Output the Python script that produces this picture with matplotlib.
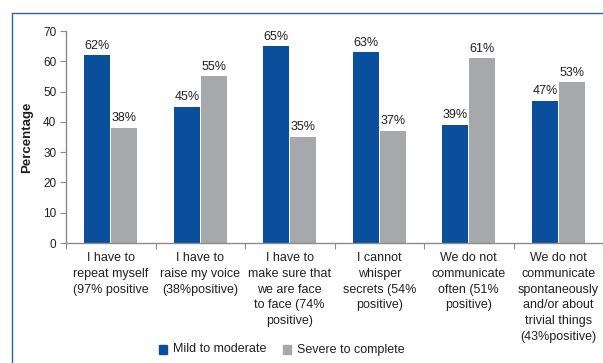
import numpy as np
import matplotlib
matplotlib.use("Agg")
import matplotlib.pyplot as plt
from matplotlib.lines import Line2D
from matplotlib.patches import Rectangle

plt.rcParams['font.family'] = ['Liberation Sans', 'DejaVu Sans']

categories = [
    "I have to\nrepeat myself\n(97% positive",
    "I have to\nraise my voice\n(38%positive)",
    "I have to\nmake sure that\nwe are face\nto face (74%\npositive)",
    "I cannot\nwhisper\nsecrets (54%\npositive)",
    "We do not\ncommunicate\noften (51%\npositive)",
    "We do not\ncommunicate\nspontaneously\nand/or about\ntrivial things\n(43%positive)",
]
mild = [62, 45, 65, 63, 39, 47]
severe = [38, 55, 35, 37, 61, 53]
series_names = ["Mild to moderate", "Severe to complete"]

blue = "#0a4f9c"
grey = "#a7a8ab"
txt = "#231f20"

fig = plt.figure(figsize=(6.03, 3.63), dpi=100)
ax = fig.add_axes([66/603, 1 - 243/363, 1 - 66/603, (243 - 31)/363])

x = np.arange(len(categories))
w = 0.29
b1 = ax.bar(x - w/2 - 0.005, mild, w, color=blue, label=series_names[0])
b2 = ax.bar(x + w/2 + 0.005, severe, w, color=grey, label=series_names[1])

for bars, vals in ((b1, mild), (b2, severe)):
    for r, v in zip(bars, vals):
        ax.text(r.get_x() + r.get_width()/2, v + 1.2, f"{v}%", ha="center",
                va="bottom", fontsize=9, color=txt)

ax.set_xlim(-0.5, len(categories) - 0.5)
ax.set_ylim(0, 70)
ax.set_yticks(range(0, 71, 10))
ax.set_xticks(np.arange(len(categories) + 1) - 0.5)
ax.set_xticklabels([])
ax.tick_params(axis="x", length=4, color="#8c8c8c", direction="out")
ax.tick_params(axis="y", length=4, color="#8c8c8c", labelsize=8.5, labelcolor=txt, pad=3)
for s in ("top", "right"):
    ax.spines[s].set_visible(False)
for s in ("left", "bottom"):
    ax.spines[s].set_color("#8c8c8c")
    ax.spines[s].set_linewidth(1.0)

for i, c in enumerate(categories):
    ax.text(i, -3.0, c, ha="center", va="top", fontsize=9, color=txt,
            linespacing=1.42, transform=ax.transData)

ax.set_ylabel("Percentage", fontsize=9.5, fontweight="bold", color=txt, labelpad=7)

# legend drawn by hand along the bottom
for px, col, name in ((159, blue, series_names[0]), (283, grey, series_names[1])):
    fig.patches.append(Rectangle((px/603, 1 - 354/363), 8/603, 9/363,
                                 transform=fig.transFigure, color=col))
    fig.text((px + 14)/603, 1 - 349.5/363, name, ha="left", va="center",
             fontsize=9, color=txt)

# frame line on the left and top
fig.lines.append(Line2D([11.5/603, 11.5/603, 1], [0, 1 - 12.5/363, 1 - 12.5/363],
                        transform=fig.transFigure, color="#2a63ad", lw=1.0))

fig.savefig("out.png", dpi=100)
